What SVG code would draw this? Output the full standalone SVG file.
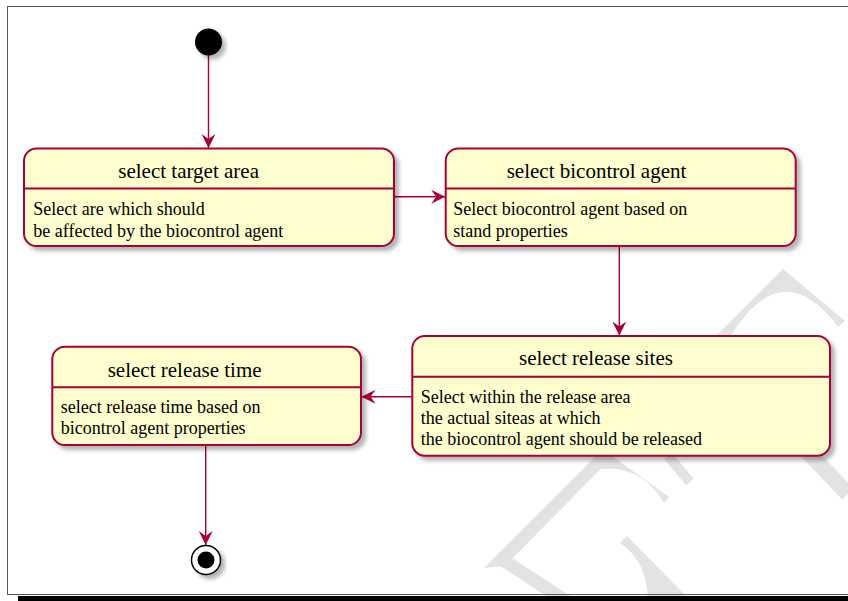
<svg xmlns="http://www.w3.org/2000/svg" width="848" height="601" viewBox="0 0 848 601">
<defs>
<filter id="sh" x="-10%" y="-10%" width="130%" height="140%">
<feGaussianBlur in="SourceAlpha" stdDeviation="2"/>
<feOffset dx="4" dy="4"/>
<feComponentTransfer><feFuncA type="linear" slope="0.3"/></feComponentTransfer>
<feMerge><feMergeNode/><feMergeNode in="SourceGraphic"/></feMerge>
</filter>
<marker id="ah" viewBox="0 0 15 15" refX="14" refY="7.5" markerWidth="15" markerHeight="15" markerUnits="userSpaceOnUse" orient="auto">
<path d="M0,0.5 L14,7.5 L0,14.5 L5,7.5 Z" fill="#A80036"/>
</marker>
<style>
.box{fill:#FEFECE;stroke:#A80036;stroke-width:2}
.dv{stroke:#A80036;stroke-width:2}
.t{font-family:"Liberation Serif","Times New Roman",serif;font-size:21px;fill:#000}
.b{font-family:"Liberation Serif","Times New Roman",serif;font-size:18px;fill:#000}
.c{stroke:#A80036;stroke-width:1.4;fill:none;marker-end:url(#ah)}
.wm{fill:#e3e3e3;stroke:none}
.wl{stroke:#e3e3e3;fill:none;stroke-linecap:butt}
</style>
</defs>
<rect x="0" y="0" width="848" height="601" fill="#ffffff"/>
<g id="watermark">
<path class="wm" d="M783,269 L845,321 L838,327 Q781,251 729,339 L505,566 L484,568 Z"/>
<path class="wl" stroke-width="13" d="M497,556 L566,601"/>
<path class="wm" d="M612,456 L669,497 L664,503 Q640,462 596,470 Z"/>
<path class="wl" stroke-width="10" d="M668,456 L690,482"/>
<path class="wm" d="M620,543 L627,536 L688,598 L648,598 Q646,560 620,543 Z"/>
<path class="wl" stroke-width="16" d="M806,450 L848,494"/>
</g>
<rect x="7.5" y="6.5" width="850" height="588" fill="none" stroke="#555555" stroke-width="1"/>
<rect x="18" y="596" width="830" height="5" fill="#000000"/>
<g id="connectors">
<path class="c" d="M208.5,55 L208.5,148"/>
<path class="c" d="M394,196.7 L445.2,196.7"/>
<path class="c" d="M619.3,246 L619.3,335.5"/>
<path class="c" d="M412.3,396.7 L361.5,396.7"/>
<path class="c" d="M205.7,445 L205.7,545"/>
</g>
<g id="start">
<circle cx="208.5" cy="42" r="13.5" fill="#000000" filter="url(#sh)"/>
</g>
<g id="n1">
<rect class="box" x="24" y="148.5" width="370" height="97.5" rx="12.5" filter="url(#sh)"/>
<line class="dv" x1="24" y1="188.5" x2="394" y2="188.5"/>
<text class="t" x="118.3" y="178.3">select target area</text>
<text class="b" x="33.3" y="215">Select are which should</text>
<text class="b" x="33.3" y="236.7">be affected by the biocontrol agent</text>
</g>
<g id="n2">
<rect class="box" x="445.7" y="148.5" width="350" height="97.5" rx="12.5" filter="url(#sh)"/>
<line class="dv" x1="445.7" y1="188.5" x2="795.7" y2="188.5"/>
<text class="t" x="506.7" y="177.7">select bicontrol agent</text>
<text class="b" x="453.3" y="215">Select biocontrol agent based on</text>
<text class="b" x="453.3" y="236.7">stand properties</text>
</g>
<g id="n4">
<rect class="box" x="412.3" y="336" width="417.7" height="119.7" rx="12.5" filter="url(#sh)"/>
<line class="dv" x1="412.3" y1="376.7" x2="830" y2="376.7"/>
<text class="t" x="519" y="365">select release sites</text>
<text class="b" x="420.7" y="403.3">Select within the release area</text>
<text class="b" x="420.7" y="424.3">the actual siteas at which</text>
<text class="b" x="420.7" y="445">the biocontrol agent should be released</text>
</g>
<g id="n3">
<rect class="box" x="52.3" y="346.7" width="308.7" height="98.3" rx="12.5" filter="url(#sh)"/>
<line class="dv" x1="52.3" y1="387.3" x2="361" y2="387.3"/>
<text class="t" x="107.7" y="376.7">select release time</text>
<text class="b" x="60.7" y="413.3">select release time based on</text>
<text class="b" x="60.7" y="434">bicontrol agent properties</text>
</g>
<g id="end">
<circle cx="206" cy="560" r="14.5" fill="#ffffff" stroke="#000000" stroke-width="1.5" filter="url(#sh)"/>
<circle cx="206" cy="560" r="8.5" fill="#000000"/>
</g>
</svg>
